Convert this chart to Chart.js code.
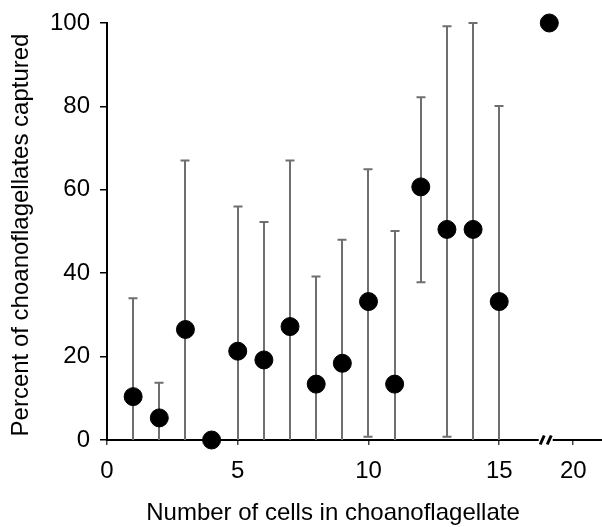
<!DOCTYPE html>
<html>
<head>
<meta charset="utf-8">
<script src="https://cdn.jsdelivr.net/npm/chart.js@4/dist/chart.umd.min.js"></script>
<style>
  html, body { margin: 0; padding: 0; background: #fff; }
  #wrap { width: 602px; height: 527px; }
</style>
</head>
<body>
<div id="wrap"><canvas id="chart" width="602" height="527"></canvas></div>
<script>
"use strict";

// number of cells per colony (18 sits past the axis break)
const cells   = [1, 2, 3, 4, 5, 6, 7, 8, 9, 10, 11, 12, 13, 14, 15, 18];
const percent = [10.4, 5.3, 26.5, 0, 21.3, 19.2, 27.2, 13.4, 18.4, 33.2, 13.4, 60.7, 50.5, 50.5, 33.2, 100];
const lower   = [0, 0, 0, null, 0, 0, 0, 0, 0, 0.8, 0, 37.8, 0.8, 0, 0, null];
const upper   = [34, 13.7, 67, null, 56, 52.3, 67, 39.2, 48, 64.9, 50.1, 82.2, 99.2, 100, 80.1, null];

const xTicks = [0, 5, 10, 15, 20];
const yTicks = [0, 20, 40, 60, 80, 100];

const BREAK_START = 16;     // above this the axis is compressed
const BREAK_SCALE = 0.4575;
const BREAK_MARK = 17.7;    // where the "//" is drawn

const FONT = "'Liberation Sans', Arial, Helvetica, sans-serif";
const BAR_COLOR = "#6f6f6f";

function axisPos(v) {
  return v <= BREAK_START ? v : BREAK_START + (v - BREAK_START) * BREAK_SCALE;
}

const errorBars = {
  id: "errorBars",
  beforeDatasetsDraw(chart) {
    const { ctx, scales: { x, y } } = chart;
    ctx.save();
    ctx.strokeStyle = BAR_COLOR;
    ctx.lineWidth = 2;
    cells.forEach((c, i) => {
      if (upper[i] == null) return;
      const px = Math.round(x.getPixelForValue(axisPos(c)));
      const top = y.getPixelForValue(upper[i]);
      const bot = y.getPixelForValue(lower[i]);
      ctx.beginPath();
      ctx.moveTo(px, bot);
      ctx.lineTo(px, top);
      ctx.moveTo(px - 4.5, top);
      ctx.lineTo(px + 4.5, top);
      if (lower[i] > 0) {
        ctx.moveTo(px - 4.5, bot);
        ctx.lineTo(px + 4.5, bot);
      }
      ctx.stroke();
    });
    ctx.restore();
  },
  afterDraw(chart) {
    const { ctx, scales: { x, y } } = chart;
    // axis break
    const bx = x.getPixelForValue(axisPos(BREAK_MARK));
    const by = y.getPixelForValue(0);
    ctx.save();
    ctx.fillStyle = "#fff";
    ctx.fillRect(bx - 7, by - 2, 14, 4);
    ctx.strokeStyle = "#000";
    ctx.lineWidth = 3;
    ctx.beginPath();
    for (const dx of [-3.5, 3.5]) {
      ctx.moveTo(bx + dx - 2, by + 4.5);
      ctx.lineTo(bx + dx + 2, by - 4.5);
    }
    ctx.stroke();
    // axis titles, placed where the original has them
    ctx.fillStyle = "#000";
    ctx.font = "24px " + FONT;
    ctx.textAlign = "center";
    ctx.textBaseline = "alphabetic";
    ctx.fillText("Number of cells in choanoflagellate", 333, 520);
    ctx.translate(28, 235);
    ctx.rotate(-Math.PI / 2);
    ctx.fillText("Percent of choanoflagellates captured", 0, 0);
    ctx.restore();
  }
};

new Chart(document.getElementById("chart"), {
  type: "scatter",
  data: {
    datasets: [{
      data: cells.map((c, i) => ({ x: axisPos(c), y: percent[i] })),
      backgroundColor: "#000",
      borderColor: "#000",
      pointRadius: 9,
      pointHoverRadius: 9,
      clip: false,
    }]
  },
  options: {
    responsive: false,
    animation: false,
    layout: { autoPadding: false, padding: { top: 23, right: 0, left: 0, bottom: 0 } },
    plugins: { legend: { display: false }, tooltip: { enabled: false } },
    scales: {
      x: {
        type: "linear",
        min: 0,
        max: 18.93,
        afterFit(s) { s.height = 87; s.paddingLeft = 0; s.paddingRight = 0; },
        afterBuildTicks(s) { s.ticks = xTicks.map(v => ({ value: axisPos(v) })); },
        ticks: {
          color: "#000",
          font: { family: FONT, size: 24 },
          padding: 12,
          maxRotation: 0,
          autoSkip: false,
          callback: (v, i) => String(xTicks[i]),
        },
        grid: { drawOnChartArea: false, drawTicks: true, tickLength: 5, color: "#444", lineWidth: 1.5 },
        border: { display: true, color: "#000", width: 2 },
      },
      y: {
        min: 0,
        max: 100,
        afterFit(s) { s.width = 107; s.paddingTop = 0; s.paddingBottom = 0; },
        afterBuildTicks(s) { s.ticks = yTicks.map(v => ({ value: v })); },
        ticks: {
          color: "#000",
          font: { family: FONT, size: 24 },
          padding: 10,
        },
        grid: { drawOnChartArea: false, drawTicks: true, tickLength: 7, color: "#000", lineWidth: 1.5 },
        border: { display: true, color: "#000", width: 2 },
      },
    },
  },
  plugins: [errorBars],
});
</script>
</body>
</html>
